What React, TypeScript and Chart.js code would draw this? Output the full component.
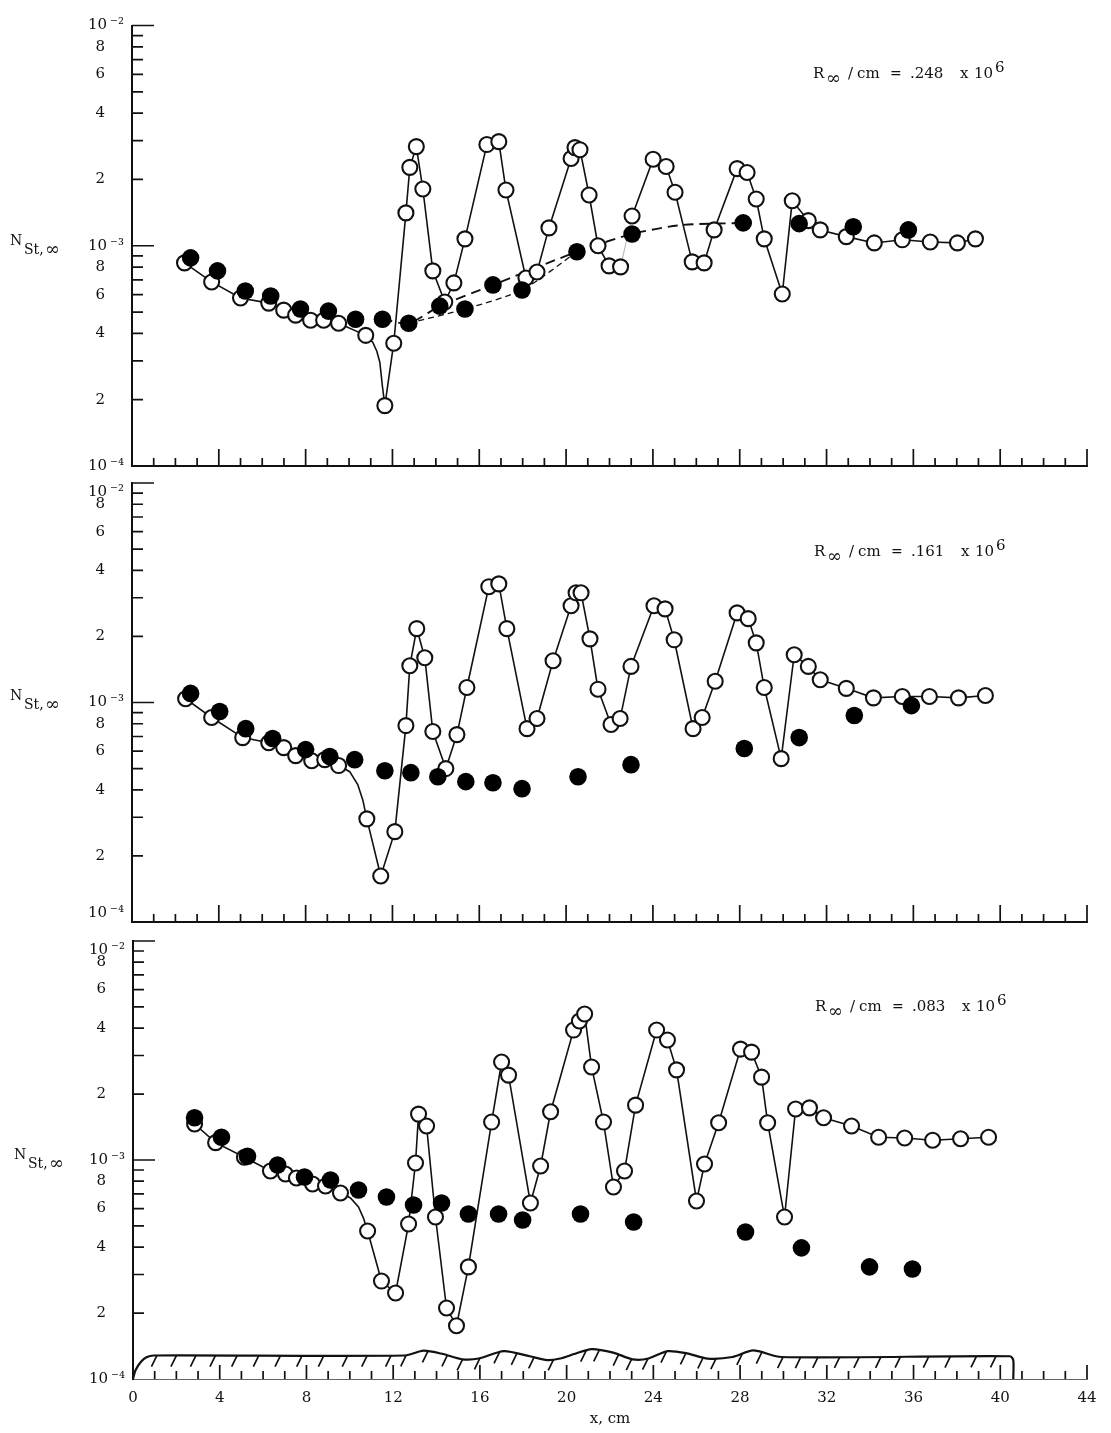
import React, { useEffect, useRef } from "react";
import { Chart, registerables } from "chart.js";

Chart.register(...registerables);

// All N_St values are in units of 10^-3
const yTickValues = [0.1, 0.2, 0.3, 0.4, 0.5, 0.6, 0.7, 0.8, 0.9, 1, 2, 3, 4, 5, 6, 7, 8, 9, 10];
const yTickLabels = ["10\u2009⁻⁴", "2", "", "4", "", "6", "", "8", "", "10\u2009⁻³", "2", "", "4", "", "6", "", "8", "", "10\u2009⁻²"];
const xTickLabelStep = 4;

const p1OpenX = [2.42, 3.67, 5.0, 6.3, 6.99, 7.54, 8.23, 8.83, 9.52, 10.77, 11.65, 12.06, 12.62, 12.8, 13.1, 13.4, 13.86, 14.41, 14.83, 15.34, 16.35, 16.9, 17.23, 18.15, 18.66, 19.21, 20.23, 20.41, 20.64, 21.06, 21.47, 21.98, 22.51, 23.04, 24.01, 24.61, 25.02, 25.81, 26.36, 26.82, 27.88, 28.34, 28.76, 29.13, 29.96, 30.42, 31.16, 31.71, 32.91, 34.2, 35.49, 36.78, 38.03, 38.86];
const p1OpenY = [0.836, 0.685, 0.579, 0.549, 0.51, 0.484, 0.459, 0.459, 0.445, 0.392, 0.188, 0.361, 1.41, 2.27, 2.82, 1.81, 0.769, 0.555, 0.678, 1.075, 2.88, 2.97, 1.79, 0.714, 0.76, 1.205, 2.49, 2.79, 2.73, 1.7, 1.0, 0.81, 0.802, 1.365, 2.47, 2.29, 1.75, 0.845, 0.836, 1.18, 2.24, 2.15, 1.63, 1.075, 0.604, 1.6, 1.3, 1.18, 1.1, 1.03, 1.064, 1.04, 1.03, 1.075];
const p1FairX = [11.09, 11.28, 11.42, 11.54];
const p1FairY = [0.365, 0.332, 0.295, 0.229];
const p1FilledX = [2.7, 3.94, 5.22, 6.39, 7.76, 9.05, 10.3, 11.54, 12.75, 14.18, 15.34, 16.63, 17.97, 20.5, 23.04, 28.16, 30.74, 33.23, 35.77];
const p1FilledY = [0.881, 0.769, 0.623, 0.591, 0.516, 0.505, 0.464, 0.464, 0.445, 0.532, 0.516, 0.664, 0.63, 0.939, 1.13, 1.27, 1.26, 1.22, 1.18];
const p1UpperDashX = [11.54, 12.75, 14.18, 16.63, 20.5, 23.04, 25.26, 28.16];
const p1UpperDashY = [0.464, 0.445, 0.532, 0.664, 0.939, 1.13, 1.24, 1.27];
const p1LowerDashX = [12.75, 15.34, 17.97, 20.5];
const p1LowerDashY = [0.445, 0.516, 0.63, 0.939];

const p2OpenX = [2.47, 3.67, 5.1, 6.3, 6.99, 7.54, 8.28, 8.88, 9.52, 10.82, 11.46, 12.11, 12.62, 12.8, 13.12, 13.49, 13.86, 14.46, 14.97, 15.43, 16.44, 16.9, 17.27, 18.2, 18.66, 19.4, 20.23, 20.46, 20.69, 21.1, 21.47, 22.07, 22.49, 22.99, 24.05, 24.56, 24.98, 25.85, 26.27, 26.87, 27.88, 28.39, 28.76, 29.13, 29.91, 30.51, 31.16, 31.71, 32.91, 34.16, 35.49, 36.74, 38.08, 39.32];
const p2OpenY = [1.04, 0.854, 0.692, 0.656, 0.623, 0.573, 0.543, 0.549, 0.516, 0.295, 0.162, 0.258, 0.785, 1.47, 2.17, 1.6, 0.738, 0.5, 0.714, 1.17, 3.37, 3.47, 2.17, 0.76, 0.845, 1.55, 2.76, 3.16, 3.16, 1.95, 1.15, 0.794, 0.845, 1.46, 2.76, 2.67, 1.93, 0.76, 0.854, 1.25, 2.56, 2.41, 1.87, 1.17, 0.555, 1.65, 1.46, 1.27, 1.16, 1.05, 1.065, 1.065, 1.05, 1.076];
const p2FairX = [10.03, 10.4, 10.63];
const p2FairY = [0.484, 0.423, 0.361];
const p2FilledX = [2.7, 4.04, 5.24, 6.48, 8.0, 9.11, 10.26, 11.65, 12.85, 14.09, 15.38, 16.63, 17.97, 20.55, 22.99, 28.21, 30.74, 33.28, 35.91];
const p2FilledY = [1.1, 0.91, 0.76, 0.685, 0.61, 0.567, 0.549, 0.489, 0.479, 0.459, 0.436, 0.431, 0.405, 0.459, 0.521, 0.617, 0.692, 0.873, 0.968];

const p3OpenX = [2.84, 3.81, 5.14, 6.34, 7.03, 7.54, 8.28, 8.88, 9.57, 10.82, 11.46, 12.11, 12.71, 13.03, 13.17, 13.54, 13.95, 14.46, 14.92, 15.47, 16.54, 17.0, 17.32, 18.33, 18.8, 19.26, 20.32, 20.59, 20.83, 21.15, 21.7, 22.16, 22.67, 23.18, 24.15, 24.65, 25.07, 25.99, 26.36, 27.01, 28.02, 28.53, 28.99, 29.27, 30.05, 30.56, 31.2, 31.85, 33.14, 34.39, 35.59, 36.88, 38.17, 39.46];
const p3OpenY = [1.46, 1.2, 1.03, 0.891, 0.863, 0.828, 0.777, 0.761, 0.707, 0.474, 0.28, 0.247, 0.51, 0.969, 1.62, 1.43, 0.549, 0.211, 0.175, 0.325, 1.49, 2.8, 2.44, 0.636, 0.939, 1.66, 3.92, 4.31, 4.64, 2.66, 1.49, 0.753, 0.891, 1.78, 3.92, 3.53, 2.58, 0.65, 0.959, 1.48, 3.21, 3.11, 2.39, 1.48, 0.549, 1.71, 1.73, 1.56, 1.43, 1.27, 1.26, 1.23, 1.25, 1.27];
const p3FairX = [10.03, 10.4, 10.63];
const p3FairY = [0.671, 0.61, 0.543];
const p3FilledX = [2.84, 4.08, 5.28, 6.67, 7.91, 9.11, 10.4, 11.69, 12.94, 14.23, 15.47, 16.86, 17.97, 20.64, 23.09, 28.25, 30.83, 33.97, 35.95];
const p3FilledY = [1.56, 1.27, 1.04, 0.949, 0.836, 0.81, 0.729, 0.678, 0.623, 0.636, 0.567, 0.567, 0.532, 0.567, 0.521, 0.469, 0.397, 0.325, 0.318];

const surfaceX = [0, 0.12, 0.37, 0.62, 0.95, 12.55, 13.4, 14.3, 15.2, 15.95, 17.1, 18.3, 19.1, 19.7, 20.35, 21.15, 22.15, 23.04, 23.77, 24.65, 25.55, 26.5, 27.65, 28.6, 29.9, 40.45, 40.6, 40.6];
const surfaceY = [0.1, 0.11, 0.12, 0.1256, 0.128, 0.128, 0.1347, 0.13, 0.123, 0.124, 0.134, 0.127, 0.122, 0.124, 0.13, 0.137, 0.132, 0.123, 0.124, 0.134, 0.131, 0.124, 0.126, 0.135, 0.126, 0.127, 0.122, 0.1];
const hatchX = [1.1, 2.0, 2.9, 3.8, 4.8, 5.8, 6.8, 7.8, 8.8, 9.9, 10.8, 11.9, 12.6, 13.6, 14.5, 15.2, 16.0, 16.9, 17.7, 18.5, 19.4, 20.9, 21.5, 22.4, 23.0, 23.75, 24.6, 25.5, 26.3, 26.9, 28.1, 29.0, 29.98, 30.8, 31.6, 32.6, 33.5, 34.5, 35.4, 36.7, 37.7, 38.9, 39.8];

const zip = (xs: number[], ys: number[]) => xs.map((x, i) => ({ x, y: ys[i] }));
const merged = (a: { x: number; y: number }[], b: { x: number; y: number }[]) => [...a, ...b].sort((p, q) => p.x - q.x);

const surfaceAt = (x: number) => {
  for (let i = 1; i < surfaceX.length; i++) {
    if (x <= surfaceX[i]) {
      const t = (x - surfaceX[i - 1]) / (surfaceX[i] - surfaceX[i - 1] || 1);
      return surfaceY[i - 1] + t * (surfaceY[i] - surfaceY[i - 1]);
    }
  }
  return surfaceY[surfaceY.length - 1];
};
const hatchPoints = () => {
  const out: { x: number; y: number | null }[] = [];
  hatchX.forEach((x) => {
    const top = surfaceAt(x);
    out.push({ x, y: top }, { x: x - 0.25, y: top * 0.89 }, { x: x - 0.25, y: null });
  });
  return out;
};

const INK = "#111";
const FONT = "'DejaVu Serif'";

type Seg = { t: string; dx: number; dy: number; size: number };
type Note = { x: number; y: number; segs: Seg[] };

const rich = (value: string): Seg[] => [
  { t: "R", dx: 0, dy: 0, size: 15 },
  { t: "∞", dx: 13, dy: 6, size: 18 },
  { t: "/", dx: 35, dy: 0, size: 15 },
  { t: "cm", dx: 44, dy: 0, size: 15 },
  { t: "=", dx: 77, dy: 0, size: 14 },
  { t: value, dx: 97, dy: 0, size: 15 },
  { t: "x", dx: 147, dy: 0, size: 15 },
  { t: "10", dx: 161, dy: 0, size: 15 },
  { t: "6", dx: 182, dy: -6, size: 15 },
];
const nst: Seg[] = [
  { t: "N", dx: 0, dy: 0, size: 14 },
  { t: "St,", dx: 14, dy: 9, size: 14 },
  { t: "∞", dx: 35, dy: 10, size: 18 },
];

const makeDecor = (notes: Note[], canvasTop: number, xMinor: number, xMajor: number) => ({
  id: "decor",
  beforeDatasetsDraw(chart: any) {
    const { ctx, scales } = chart;
    const x = scales.x;
    const y = scales.y;
    ctx.save();
    ctx.strokeStyle = INK;
    ctx.lineWidth = 1.7;
    ctx.beginPath();
    x.ticks.forEach((t: any) => {
      const px = x.getPixelForValue(t.value);
      if (t.value === 0) return;
      ctx.moveTo(px, x.top);
      ctx.lineTo(px, x.top - (t.value % xTickLabelStep === 0 ? xMajor : xMinor));
    });
    y.ticks.forEach((t: any, i: number) => {
      const py = y.getPixelForValue(t.value);
      ctx.moveTo(y.right, py);
      ctx.lineTo(y.right + (i === 0 ? 0 : i % 9 === 0 ? 22 : 11), py);
    });
    ctx.stroke();
    ctx.restore();
  },
  afterDraw(chart: any) {
    const { ctx } = chart;
    ctx.save();
    ctx.fillStyle = INK;
    ctx.textBaseline = "alphabetic";
    ctx.textAlign = "left";
    notes.forEach((n) =>
      n.segs.forEach((s) => {
        ctx.font = `${s.size}px ${FONT}`;
        ctx.fillText(s.t, n.x + s.dx, n.y - canvasTop + s.dy);
      })
    );
    ctx.restore();
  },
});

type Panel = {
  canvasTop: number;
  height: number;
  top: number;
  bottom: number;
  left: number;
  open: { x: number; y: number }[];
  fair: { x: number; y: number }[];
  filled: { x: number; y: number }[];
  notes: Note[];
  showX: boolean;
  topShift: number;
  bottomShift: number;
  xMinor: number;
  xMajor: number;
  dashes?: boolean;
  surface?: boolean;
};

const panels: Panel[] = [
  {
    canvasTop: 0, height: 510, top: 25.5, bottom: 466, left: 132,
    open: zip(p1OpenX, p1OpenY), fair: zip(p1FairX, p1FairY), filled: zip(p1FilledX, p1FilledY),
    notes: [{ x: 813, y: 78, segs: rich(".248") }, { x: 10, y: 245, segs: nst }],
    showX: false, topShift: 0, bottomShift: 0, xMinor: 8, xMajor: 17, dashes: true,
  },
  {
    canvasTop: 440, height: 530, top: 483, bottom: 922, left: 132,
    open: zip(p2OpenX, p2OpenY), fair: zip(p2FairX, p2FairY), filled: zip(p2FilledX, p2FilledY),
    notes: [{ x: 814, y: 556, segs: rich(".161") }, { x: 10, y: 700, segs: nst }],
    showX: false, topShift: 1, bottomShift: -1, xMinor: 8, xMajor: 17,
  },
  {
    canvasTop: 895, height: 538, top: 941, bottom: 1379, left: 133,
    open: zip(p3OpenX, p3OpenY), fair: zip(p3FairX, p3FairY), filled: zip(p3FilledX, p3FilledY),
    notes: [{ x: 815, y: 1011, segs: rich(".083") }, { x: 14, y: 1159, segs: nst }],
    showX: true, topShift: 1, bottomShift: 0, xMinor: 8, xMajor: 14, surface: true,
  },
];

function PanelChart({ p }: { p: Panel }) {
  const ref = useRef<HTMLCanvasElement | null>(null);
  useEffect(() => {
    const datasets: any[] = [
      {
        label: "filled", data: p.filled, showLine: false, order: 1,
        pointRadius: 8.8, pointBackgroundColor: "#000", pointBorderColor: "#000", pointBorderWidth: 0,
      },
      {
        label: "open", data: p.open, showLine: false, order: 2,
        pointRadius: 7.5, pointBackgroundColor: "#fff", pointBorderColor: INK, pointBorderWidth: 2.1,
      },
      {
        label: "open line", data: merged(p.open, p.fair), order: 3, pointRadius: 0,
        borderColor: INK, borderWidth: 1.6, tension: 0,
        segment: p.dashes
          ? { borderColor: (c: any) => (c.p0.parsed.x === 22.51 ? "#999" : undefined), borderWidth: (c: any) => (c.p0.parsed.x === 22.51 ? 0.8 : undefined) }
          : undefined,
      },
    ];
    if (p.dashes) {
      datasets.push(
        { label: "dash upper", data: zip(p1UpperDashX, p1UpperDashY), order: 4, pointRadius: 0, borderColor: INK, borderWidth: 1.9, borderDash: [10, 6], tension: 0.25 },
        { label: "dash lower", data: zip(p1LowerDashX, p1LowerDashY), order: 4, pointRadius: 0, borderColor: INK, borderWidth: 1.3, borderDash: [6, 4], tension: 0.25 }
      );
    }
    if (p.surface) {
      datasets.push(
        { label: "surface", data: zip(surfaceX, surfaceY), order: 5, pointRadius: 0, borderColor: INK, borderWidth: 2.2, tension: 0.25 },
        { label: "hatch", data: hatchPoints(), order: 6, pointRadius: 0, borderColor: INK, borderWidth: 1.7, tension: 0, spanGaps: false }
      );
    }
    const chart = new Chart(ref.current as HTMLCanvasElement, {
      type: "line",
      data: { datasets },
      plugins: [makeDecor(p.notes, p.canvasTop, p.xMinor, p.xMajor)],
      options: {
        animation: false,
        responsive: false,
        devicePixelRatio: 1,
        layout: { padding: { left: 0, top: p.top - p.canvasTop, right: 1111 - 1087, bottom: 0 } },
        plugins: { legend: { display: false }, tooltip: { enabled: false }, title: { display: false } },
        scales: {
          x: {
            type: "linear", min: 0, max: 44,
            afterFit: (s: any) => { s.height = p.canvasTop + p.height - p.bottom; },
            grid: { drawOnChartArea: false, drawTicks: false },
            border: { display: true, color: p.surface ? "#666" : INK, width: p.surface ? 1 : 2 },
            ticks: {
              display: p.showX, stepSize: 1, autoSkip: false, maxRotation: 0, minRotation: 0,
              padding: 10, color: INK, font: { family: FONT, size: 15 },
              callback: (v: any) => (v % xTickLabelStep === 0 ? String(v) : ""),
            },
            title: {
              display: p.showX, text: "x, cm", color: INK, font: { family: FONT, size: 15 },
              padding: { top: 0, bottom: 5 },
            },
          },
          y: {
            type: "logarithmic", min: 0.1, max: 10,
            afterFit: (s: any) => { s.width = p.left; },
            afterBuildTicks: (s: any) => { s.ticks = yTickValues.map((value) => ({ value })); },
            grid: { drawOnChartArea: false, drawTicks: false },
            border: { display: true, color: INK, width: 2 },
            ticks: {
              autoSkip: false, padding: 8, color: INK, font: { family: FONT, size: 15 },
              callback: (_v: any, i: number) => {
                const l = yTickLabels[i];
                if (l === "") return "";
                if (i === yTickLabels.length - 1 && p.topShift > 0) return ["", l];
                if (i === 0 && p.bottomShift < 0) return [l, ""];
                return l.startsWith("10") ? l : l + "\u00a0\u00a0\u00a0\u00a0";
              },
            },
          },
        },
      },
    } as any);
    return () => chart.destroy();
  }, [p]);
  return (
    <canvas
      ref={ref}
      width={1111}
      height={p.height}
      style={{ position: "absolute", left: 0, top: p.canvasTop, width: 1111, height: p.height, display: "block" }}
    />
  );
}

export default function App() {
  return (
    <div style={{ position: "absolute", left: 0, top: 0, width: 1111, height: 1433, background: "#fff", overflow: "hidden" }}>
      {panels.map((p, i) => (
        <PanelChart key={i} p={p} />
      ))}
    </div>
  );
}
